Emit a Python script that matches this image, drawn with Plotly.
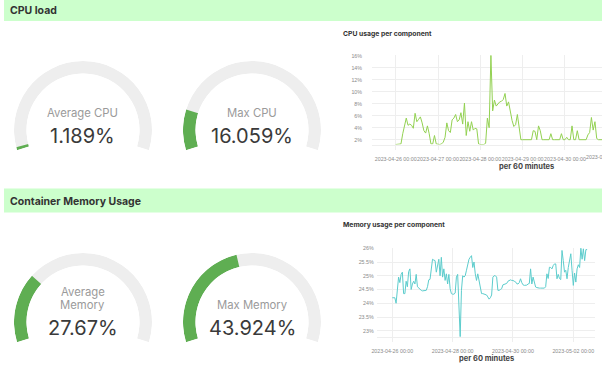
import math
import plotly.graph_objects as go
import pandas as pd

W, H = 602, 380

# ---------------- data ----------------
section_titles = ["CPU load", "Container Memory Usage"]
chart_titles = ["CPU usage per component", "Memory usage per component"]
x_axis_title = "per 60 minutes"

gauge_labels = ["Average CPU", "Max CPU", "Average<br>Memory", "Max Memory"]
gauge_values = [1.189, 16.059, 27.67, 43.924]
gauge_max = 100

cpu_start = "2023-04-26 00:00"
cpu_values = [
    1.2, 1.25, 1.2, 1.3, 3.0, 4.6, 5.6, 4.4, 4.6, 4.4, 3.9, 6.4, 5.0, 5.4, 5.8, 4.8, 3.5, 3.1, 4.3, 3.0, 1.3, 1.3, 2.7, 1.3,
    1.2, 1.2, 1.3, 1.6, 2.4, 4.8, 3.5, 3.2, 5.3, 5.6, 6.2, 5.0, 5.3, 6.5, 4.6, 8.1, 2.7, 5.0, 3.4, 5.0, 3.6, 3.9, 3.8, 1.3,
    1.2, 1.2, 1.2, 1.4, 5.6, 4.0, 16.06, 6.8, 8.6, 7.6, 7.9, 8.3, 8.4, 8.7, 9.7, 7.6, 8.3, 6.4, 5.2, 4.2, 4.5, 6.2, 3.9, 2.0,
    2.0, 2.0, 2.0, 2.0, 2.0, 2.0, 3.5, 3.4, 2.0, 4.3, 3.5, 2.0, 2.0, 2.0, 2.0, 2.0, 3.0, 2.0, 2.0, 2.0, 2.0, 2.0, 3.0, 2.0,
    2.0, 2.4, 2.0, 2.0, 4.3, 2.0, 2.0, 3.5, 2.0, 2.0, 2.0, 2.0, 2.0, 2.8, 3.2, 5.7, 3.6, 5.0, 2.2, 2.0, 2.0, 2.0,
]
cpu_y_ticks = [2, 4, 6, 8, 10, 12, 14, 16]
cpu_y_ticktext = ["2%", "4%", "6%", "8%", "10%", "12%", "14%", "16%"]
cpu_x_range = ["2023-04-25 10:34", "2023-04-30 21:00"]
cpu_y_range = [1.2, 16.06]

mem_start = "2023-04-26 00:00"
mem_values = [
    24.2, 24.2, 24.2, 24.0, 24.6, 24.95, 24.75, 25.05, 25.13, 24.35, 24.35, 24.8, 24.6, 25.15, 25.25, 24.5, 24.7, 24.8, 24.7, 25.05, 24.6, 24.55, 24.5, 24.47,
    24.45, 24.45, 24.45, 24.47, 24.6, 24.85, 24.87, 25.3, 25.6, 25.57, 25.55, 25.13, 25.37, 25.6, 25.0, 25.67, 24.95, 25.25, 24.83, 25.07, 24.7, 25.05, 24.53, 24.35,
    24.33, 24.33, 24.37, 24.95, 25.05, 24.0, 22.78, 24.47, 25.0, 24.95, 25.0, 25.2, 25.43, 25.6, 25.67, 25.73, 25.3, 25.5, 25.07, 24.83, 25.07, 24.8, 24.5, 24.35,
    24.35, 24.33, 24.33, 24.3, 24.23, 24.15, 24.2, 24.3, 24.95, 25.0, 25.0, 24.95, 24.47, 24.47, 24.5, 24.53, 24.67, 24.69, 24.7, 24.72, 24.8, 24.83, 24.85, 24.83,
    24.83, 24.8, 24.78, 24.71, 24.7, 24.75, 24.89, 24.75, 24.67, 24.65, 24.65, 24.66, 24.7, 24.72, 25.25, 24.7, 24.95, 24.75, 24.59, 24.57, 24.55, 24.55, 24.55, 24.55,
    24.55, 24.55, 24.6, 25.07, 24.9, 25.31, 25.3, 25.25, 25.37, 25.43, 25.43, 24.89, 25.05, 24.9, 24.86, 25.92, 25.55, 25.13, 25.2, 24.89, 25.3, 25.5, 25.8, 25.2,
    24.65, 25.1, 24.77, 25.25, 25.4, 25.3, 26.0, 25.6, 25.98, 25.55, 25.95, 25.95,
]
mem_y_ticks = [23, 23.5, 24, 24.5, 25, 25.5, 26]
mem_y_ticktext = ["23%", "23.5%", "24%", "24.5%", "25%", "25.5%", "26%"]
mem_x_range = ["2023-04-25 11:35", "2023-05-02 17:15"]
mem_y_range = [22.78, 26.02]

# ---------------- styling / geometry ----------------
FONT = "Inter, Roboto, 'Noto Sans', sans-serif"
TICK_FAMILY = "'Liberation Sans', Arial, sans-serif"
GREEN = "#5fae52"
TRACK = "#eeeeee"
HEADER_BG = "#ccffcc"
CPU_LINE = "#93d152"
MEM_LINE = "#5ccccc"
GRID = "#eeeeee"
TICK_FONT = dict(family=TICK_FAMILY, size=5.3, color="#8a8a8a")

def fx(p):
    return p / W

def fy(p):
    return 1 - p / H

ARC_SPAN = 214.0
R_OUT, R_IN = 69.0, 56.5
HALF_EXTRA = (ARC_SPAN - 180) / 2.0
BELOW = R_OUT * math.sin(math.radians(HALF_EXTRA))
gauge_centers = [(83, 130), (252, 130), (83, 322), (252, 322)]

fig = go.Figure()

# gauges as barpolar rings
for i, (lab, val) in enumerate(zip(gauge_labels, gauge_values)):
    pname = "polar" if i == 0 else f"polar{i+1}"
    frac = val / gauge_max
    fig.add_trace(go.Barpolar(
        r=[1], theta=[ARC_SPAN / 2], width=[ARC_SPAN], base=0,
        marker=dict(color=TRACK, line=dict(width=0)),
        subplot=pname, hoverinfo="skip", showlegend=False))
    fig.add_trace(go.Barpolar(
        r=[1], theta=[frac * ARC_SPAN / 2], width=[frac * ARC_SPAN], base=0,
        marker=dict(color=GREEN, line=dict(width=0)),
        subplot=pname, hoverinfo="skip", showlegend=False))
    cx, cy = gauge_centers[i]
    fig.layout[pname] = dict(
        domain=dict(x=[fx(cx - R_OUT), fx(cx + R_OUT)], y=[fy(cy + BELOW), fy(cy - R_OUT)]),
        sector=[-HALF_EXTRA, 180 + HALF_EXTRA],
        hole=R_IN / R_OUT,
        bgcolor="rgba(0,0,0,0)",
        bargap=0,
        radialaxis=dict(visible=False, range=[0, 1]),
        angularaxis=dict(visible=False, rotation=180 + HALF_EXTRA, direction="clockwise"),
    )
    # label lines
    lines = lab.split("<br>")
    n = len(lines)
    for j, ln in enumerate(lines):
        fig.add_annotation(
            x=fx(cx), y=fy(cy - 16.7 - (n - 1 - j) * 13.0), xref="paper", yref="paper",
            text=ln, showarrow=False, xanchor="center", yanchor="middle",
            font=dict(family=FONT, size=11.3, color="#9a9a9a"))
    fig.add_annotation(
        x=fx(cx), y=fy(cy + 5.7), xref="paper", yref="paper",
        text=f"{val}%", showarrow=False, xanchor="center", yanchor="middle",
        font=dict(family=FONT, size=20, color="#3a3a3a"))

# line charts
cpu_x = pd.date_range(cpu_start, periods=len(cpu_values), freq="h")
mem_x = pd.date_range(mem_start, periods=len(mem_values), freq="h")

fig.add_trace(go.Scatter(x=cpu_x, y=cpu_values, mode="lines", xaxis="x", yaxis="y",
                         line=dict(color=CPU_LINE, width=1), hoverinfo="skip", showlegend=False))
fig.add_trace(go.Scatter(x=mem_x, y=mem_values, mode="lines", xaxis="x2", yaxis="y2",
                         line=dict(color=MEM_LINE, width=1), hoverinfo="skip", showlegend=False))

xcommon = dict(type="date", tickformat="%Y-%m-%d %H:%M", tick0="2023-04-26",
               showgrid=True, gridcolor=GRID, gridwidth=1, zeroline=False,
               showline=True, linecolor=GRID, linewidth=1, automargin=False, tickangle=0,
               ticks="outside", ticklen=4, tickcolor=GRID, ticklabelstandoff=5,
               tickfont=TICK_FONT, fixedrange=True)
ycommon = dict(showgrid=True, gridcolor=GRID, gridwidth=1, zeroline=False, showline=False,
               automargin=False, ticks="", tickfont=TICK_FONT, fixedrange=True)

fig.update_layout(
    xaxis=dict(xcommon, domain=[fx(372), 1.0], range=cpu_x_range, dtick=86400000, anchor="y"),
    yaxis=dict(ycommon, domain=[fy(144.5), fy(55.3)], range=cpu_y_range,
               tickvals=cpu_y_ticks, ticktext=cpu_y_ticktext, anchor="x", ticklabelstandoff=9),
    xaxis2=dict(xcommon, domain=[fx(376.7), fx(595)], range=mem_x_range, dtick=2 * 86400000, anchor="y2"),
    yaxis2=dict(ycommon, domain=[fy(336.8), fy(247.7)], range=mem_y_range,
                tickvals=mem_y_ticks, ticktext=mem_y_ticktext, anchor="x2", ticklabelstandoff=2),
)

# clipped next tick label at right edge of CPU chart (chart continues beyond the window)
t0 = pd.Timestamp(cpu_x_range[0]); t1 = pd.Timestamp(cpu_x_range[1])
next_tick = pd.Timestamp(cpu_x_range[1]).normalize() + pd.Timedelta(days=1)
px_next = 372 + (next_tick - t0) / (t1 - t0) * (602 - 372)
fig.add_annotation(x=fx(px_next), y=fy(156.7), xref="paper", yref="paper",
                   text=next_tick.strftime("%Y-%m-%d %H:%M"), showarrow=False,
                   xanchor="center", yanchor="middle", font=TICK_FONT)

# header bands
for (y0, y1, tyc), title in zip([(0, 21, 10.7), (188.5, 212.5, 201.5)], section_titles):
    fig.add_shape(type="rect", xref="paper", yref="paper",
                  x0=fx(4), x1=1.0, y0=fy(y1), y1=fy(y0),
                  fillcolor=HEADER_BG, line=dict(width=0), layer="below")
    fig.add_annotation(x=fx(8), y=fy(tyc), xref="paper", yref="paper", text=title,
                       showarrow=False, xanchor="left", yanchor="middle",
                       font=dict(family=FONT, size=10.5, color="#333333", weight="bold"))

# chart titles and axis titles
for ty, title in zip([33.3, 224.3], chart_titles):
    fig.add_annotation(x=fx(341), y=fy(ty), xref="paper", yref="paper", text=title,
                       showarrow=False, xanchor="left", yanchor="middle",
                       font=dict(family=FONT, size=6.8, color="#333333", weight="bold"))
for (tx, ty) in [(526, 167), (486, 358.3)]:
    fig.add_annotation(x=fx(tx), y=fy(ty), xref="paper", yref="paper", text=x_axis_title,
                       showarrow=False, xanchor="center", yanchor="middle",
                       font=dict(family=FONT, size=7.5, color="#444444", weight="bold"))

fig.update_layout(
    width=W, height=H, autosize=False,
    margin=dict(l=0, r=0, t=0, b=0, pad=0, autoexpand=False),
    paper_bgcolor="white", plot_bgcolor="white",
    showlegend=False,
)

fig.write_html("out.html", config={"displayModeBar": False, "staticPlot": True},
               post_script="document.body.style.margin='0';document.body.style.overflow='hidden';")
